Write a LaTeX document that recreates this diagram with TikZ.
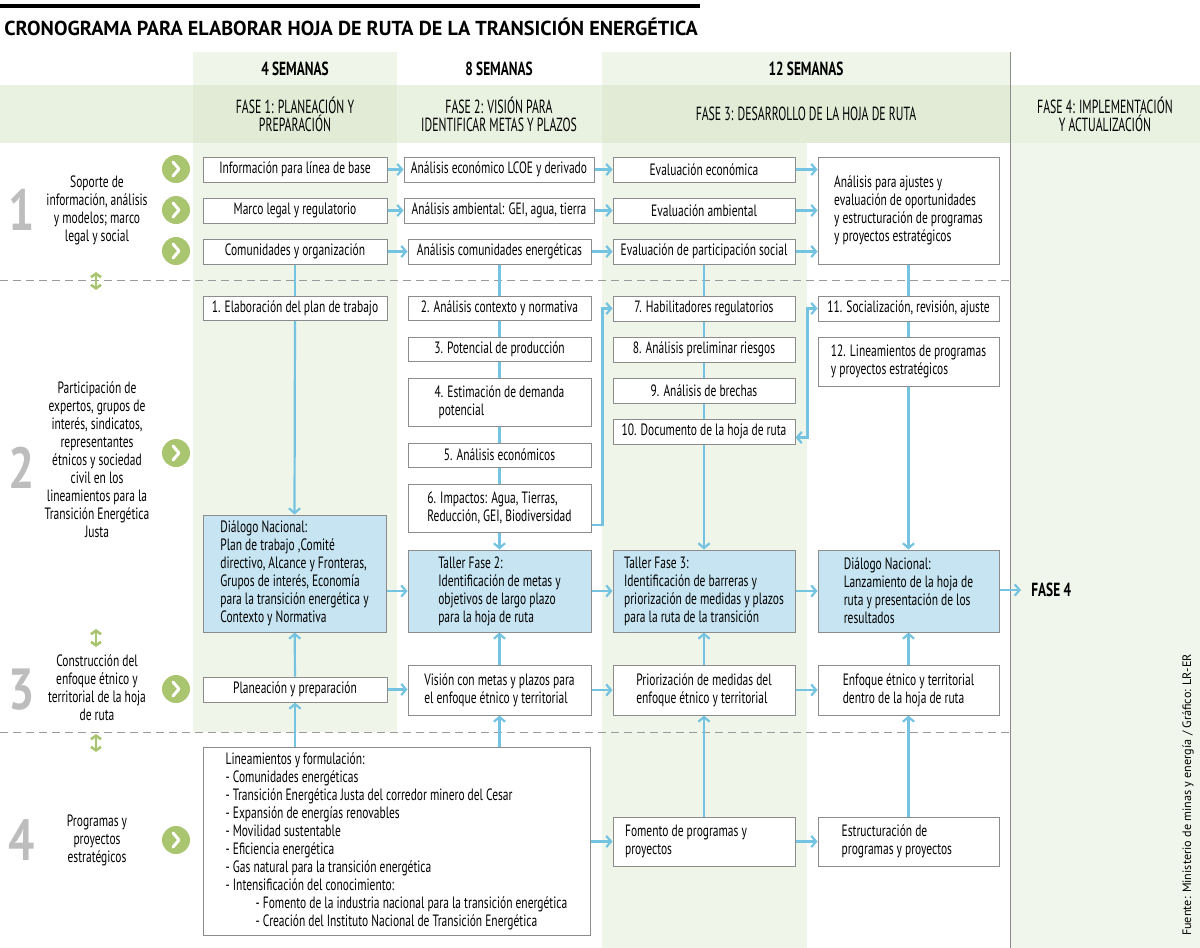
\documentclass[tikz,border=0pt]{standalone}
\usepackage{fontspec}
\setmainfont{PT Sans}[FakeStretch=0.70]
\newfontfamily\hfont{PT Sans}[FakeStretch=0.62]
\newfontfamily\hbfont{PT Sans}[FakeStretch=0.70]
\newfontfamily\tfont{PT Sans}
\newfontfamily\nfont{PT Sans}[FakeStretch=0.8]
\usetikzlibrary{arrows.meta,calc}
\definecolor{colg}{HTML}{EFF5E8}
\definecolor{colg4}{HTML}{F1F6EC}
\definecolor{band}{HTML}{E9F1E0}
\definecolor{bandd}{HTML}{E1EBD5}
\definecolor{bgray}{HTML}{8C8C8C}
\definecolor{bblue}{HTML}{C6E4F1}
\definecolor{ablue}{HTML}{74C3E1}
\definecolor{cgreen}{HTML}{A9C56F}
\definecolor{numgray}{HTML}{BDBDBD}
\definecolor{dgray}{HTML}{9A9A9A}
\pgfdeclarelayer{shade}
\pgfdeclarelayer{lines}
\pgfsetlayers{shade,lines,main}
\newcommand{\fs}{\fontsize{8.2}{9}\selectfont}
\newcommand{\fh}{\hfont\fontsize{9.5}{9}\selectfont}
\newcommand{\fhb}{\hbfont\bfseries\fontsize{9.5}{9}\selectfont}
\tikzset{
  >={Straight Barb[length=2.4pt,width=5.6pt]},
  bx/.style={draw=bgray, line width=0.5pt, fill=white, inner sep=1pt, font=\fs, align=center},
  bb/.style={bx, fill=bblue, align=left},
  bl/.style={bx, align=left},
  sz/.style 2 args={minimum width=#1pt, minimum height=#2pt},
  arr/.style={draw=ablue, line width=1.1pt, ->},
  barr/.style={draw=ablue, line width=1.1pt, <->},
  ln/.style={draw=ablue, line width=1.1pt},
  garr/.style={draw=cgreen, line width=1.3pt, <->, >={Straight Barb[length=1.8pt,width=5pt]}},
  lbl/.style={font=\fs, align=center, inner sep=0pt},
  num/.style={font=\nfont\bfseries\fontsize{29}{29}\selectfont, text=numgray, inner sep=0pt},
  hd/.style={font=\fh, align=center, inner sep=0pt},
  hdb/.style={font=\fhb, align=center, inner sep=0pt},
  dashln/.style={draw=dgray, line width=0.5pt, dash pattern=on 4pt off 2.5pt},
  btn/.pic={\fill[cgreen] (0,0) circle (7pt);
            \draw[white, line width=1.5pt, line cap=round, line join=round] (-3,-7) -- (3,0) -- (-3,7);}
}
\begin{document}
\begin{tikzpicture}[x=0.5pt,y=-0.5pt]
\useasboundingbox (0,0) rectangle (1200,948);
% shading
\begin{pgfonlayer}{shade}
\fill[colg] (193,52) rectangle (397,732);
\fill[colg] (602,52) rectangle (1010,143);
\fill[colg] (602,143) rectangle (807,948);
\fill[colg4] (1011,143) rectangle (1200,948);
\fill[band] (0,85) rectangle (1200,143);
\fill[bandd] (193,85) rectangle (397,143);
\fill[bandd] (602,85) rectangle (1010,143);
\end{pgfonlayer}
% title
\fill[black] (0,4) rectangle (700,8);
\node[anchor=west, inner sep=0pt, font=\tfont\bfseries\fontsize{10.1}{11}\selectfont] (title) at (4,27) {CRONOGRAMA PARA ELABORAR HOJA DE RUTA DE LA TRANSICIÓN ENERGÉTICA};
% headers
\node[hdb] (s1) at (295,69) {4 SEMANAS};
\node[hdb] (s2) at (499,69) {8 SEMANAS};
\node[hdb] (s3) at (806,69) {12 SEMANAS};
\node[hd] (p1) at (295,114) {FASE 1: PLANEACIÓN Y\\PREPARACIÓN};
\node[hd] (p2) at (499,114) {FASE 2: VISIÓN PARA\\IDENTIFICAR METAS Y PLAZOS};
\node[hd] (p3) at (806,114) {FASE 3: DESARROLLO DE LA HOJA DE RUTA};
\node[hd] (p4) at (1105,114) {FASE 4: IMPLEMENTACIÓN\\Y ACTUALIZACIÓN};
% grid lines
\begin{pgfonlayer}{lines}
\draw[dashln] (0,280) -- (1010,280);
\draw[dashln] (0,732) -- (1010,732);
\draw[draw=bgray, line width=0.5pt] (1010,52) -- (1010,948);
\end{pgfonlayer}
% left labels
\node[num] (n1) at (22,210) {1};
\node[num] (n2) at (22,468) {2};
\node[num] (n3) at (22,690) {3};
\node[num] (n4) at (22,840) {4};
\node[lbl] (l1) at (97,210) {Soporte de\\información, análisis\\y modelos; marco\\legal y social};
\node[lbl] (l2) at (97,460) {Participación de\\expertos, grupos de\\interés, sindicatos,\\representantes\\étnicos y sociedad\\civil en los\\lineamientos para la\\Transición Energética\\Justa};
\node[lbl] (l3) at (97,688) {Construcción del\\enfoque étnico y\\territorial de la hoja\\de ruta};
\node[lbl] (l4) at (97,840) {Programas y\\proyectos\\estratégicos};
\pic at (176,169) {btn};
\pic at (176,210) {btn};
\pic at (176,251) {btn};
\pic at (176,453) {btn};
\pic at (176,689) {btn};
\pic at (176,840) {btn};
\draw[garr] (96,272) -- (96,290);
\draw[garr] (96,629) -- (96,647);
\draw[garr] (96,734) -- (96,752);
% row 1
\node[bx, sz={92}{12.5}] (a1) at (295,169.5) {Información para línea de base};
\node[bx, sz={92}{12.5}] (a2) at (295,210.5) {Marco legal y regulatorio};
\node[bx, sz={92}{12.5}] (a3) at (295,251.5) {Comunidades y organización};
\node[bx, sz={95}{12.5}] (b1) at (499,169.5) {Análisis económico LCOE y derivado};
\node[bx, sz={95}{12.5}] (b2) at (499,210.5) {Análisis ambiental: GEI, agua, tierra};
\node[bx, sz={91.5}{12.5}] (b3) at (499.5,251.5) {Análisis comunidades energéticas};
\node[bx, sz={91}{12.5}] (c1) at (704,169.5) {Evaluación económica};
\node[bx, sz={91}{12.5}] (c2) at (704,210.5) {Evaluación ambiental};
\node[bx, sz={91}{12.5}] (c3) at (704,251.5) {Evaluación de participación social};
\node[bl, sz={90.5}{53.5}] (d1) at (908.5,210.5) {Análisis para ajustes y\\evaluación de oportunidades\\y estructuración de programas\\y proyectos estratégicos};
% row 2
\node[bx, sz={92}{12}] (e1) at (295,308) {1. Elaboración del plan de trabajo};
\node[bb, sz={91.5}{58.5}] (D1) at (294.5,573.5) {Diálogo Nacional:\\Plan de trabajo ,Comité\\directivo, Alcance y Fronteras,\\Grupos de interés, Economía\\para la transición energética y\\Contexto y Normativa};
\node[bx, sz={91.5}{12}] (f2) at (499.5,308) {2. Análisis contexto y normativa};
\node[bx, sz={91.5}{12}] (f3) at (499.5,349) {3. Potencial de producción};
\node[bl, sz={91.5}{24}] (f4) at (499.5,402) {4. Estimación de demanda\\\hspace*{2pt}potencial};
\node[bx, sz={91.5}{12}] (f5) at (499.5,455) {5. Análisis económicos};
\node[bl, sz={91.5}{24}] (f6) at (499.5,508) {6. Impactos: Agua, Tierras,\\Reducción, GEI, Biodiversidad};
\node[bb, sz={91.5}{41}] (T2) at (499.5,591) {Taller Fase 2:\\Identificación de metas y\\objetivos de largo plazo\\para la hoja de ruta};
\node[bx, sz={91}{12.5}] (g7) at (704,308.5) {7. Habilitadores regulatorios};
\node[bx, sz={91}{12.5}] (g8) at (704,349.5) {8. Análisis preliminar riesgos};
\node[bx, sz={91}{12.5}] (g9) at (704,390.5) {9. Análisis de brechas};
\node[bx, sz={91}{12.5}] (g10) at (704,431.5) {10. Documento de la hoja de ruta};
\node[bb, sz={91}{41}] (T3) at (704,591) {Taller Fase 3:\\Identificación de barreras y\\priorización de medidas y plazos\\para la ruta de la transición};
\node[bx, sz={90.5}{12.5}] (h11) at (908.5,308.5) {11. Socialización, revisión, ajuste};
\node[bl, sz={90.5}{24.5}] (h12) at (908.5,361.5) {12. Lineamientos de programas\\y proyectos estratégicos};
\node[bb, sz={90.5}{41}] (D2) at (908.5,591) {Diálogo Nacional:\\Lanzamiento de la hoja de\\ruta y presentación de los\\resultados};
\node[anchor=west, inner xsep=5pt, font=\fhb] (F4) at (1021,590) {FASE 4};
% row 3
\node[bx, sz={92}{12.5}] (r1) at (295,689.5) {Planeación y preparación};
\node[bl, sz={91.5}{25}] (r2) at (499.5,690) {Visión con metas y plazos para\\el enfoque étnico y territorial};
\node[bl, sz={91}{25}] (r3) at (704,690) {Priorización de medidas del\\enfoque étnico y territorial};
\node[bl, sz={90.5}{25}] (r4) at (908.5,690) {Enfoque étnico y territorial\\dentro de la hoja de ruta};
% row 4
\node[bl, sz={193.5}{94}] (L) at (396.5,841) {Lineamientos y formulación:\\- Comunidades energéticas\\- Transición Energética Justa del corredor minero del Cesar\\- Expansión de energías renovables\\- Movilidad sustentable\\- Eficiencia energética\\- Gas natural para la transición energética\\- Intensificación del conocimiento:\\\hspace*{15pt}- Fomento de la industria nacional para la transición energética\\\hspace*{15pt}- Creación del Instituto Nacional de Transición Energética};
\node[bl, sz={91}{24.5}] (q3) at (704,841.5) {Fomento de programas y\hspace*{18pt}\\proyectos};
\node[bl, sz={90.5}{24.5}] (q4) at (908.5,841.5) {Estructuración de\hspace*{24pt}\\programas y proyectos};
% source
\node[rotate=90, inner sep=0pt, font=\tfont\fontsize{6.1}{7}\selectfont] (src) at (1188,795) {Fuente: Ministerio de minas y energía / Gráfico: LR-ER};
% connectors
\begin{pgfonlayer}{lines}
\draw[arr] (a1) -- (b1);
\draw[arr] (a2) -- (b2);
\draw[arr] (a3) -- (b3);
\draw[arr] (b1) -- (c1);
\draw[arr] (b2) -- (c2);
\draw[arr] (b3) -- (c3);
\draw[arr] (c1.east) -- (c1.east -| d1.west);
\draw[arr] (c2.east) -- (c2.east -| d1.west);
\draw[arr] (c3.east) -- (c3.east -| d1.west);
\draw[ln] (a3.south) -- (e1.north);
\draw[arr] (e1.south) -- (D1.north);
\draw[arr] (b3.south) -- (T2.north);
\draw[arr] (c3.south) -- (T3.north);
\draw[arr] (d1.south) -- (D2.north);
\draw[arr] ([yshift=-8.5pt]f6.east) -- ++(11,0) |- (g7.west);
\draw[barr] ([yshift=-3pt]g10.east) -- ++(12,0) |- (h11.west);
\draw[arr] (D1.east |- T2.west) -- (T2.west);
\draw[arr] (T2) -- (T3);
\draw[arr] (T3) -- (D2);
\draw[arr] (D2.east |- F4.west) -- (F4.west);
\draw[arr] (r1.east) -- (r1.east -| r2.west);
\draw[arr] (r2) -- (r3);
\draw[arr] (r3) -- (r4);
\draw[arr] (r1) -- (D1);
\draw[arr] (r2) -- (T2);
\draw[arr] (r3) -- (T3);
\draw[arr] (r4) -- (D2);
\draw[arr] (L.north -| r1.south) -- (r1.south);
\draw[arr] (L.north -| r2.south) -- (r2.south);
\draw[arr] (L.east |- q3.west) -- (q3.west);
\draw[arr] (q3) -- (q4);
\draw[arr] (q3) -- (r3);
\draw[arr] (q4) -- (r4);
\end{pgfonlayer}
\end{tikzpicture}
\end{document}
